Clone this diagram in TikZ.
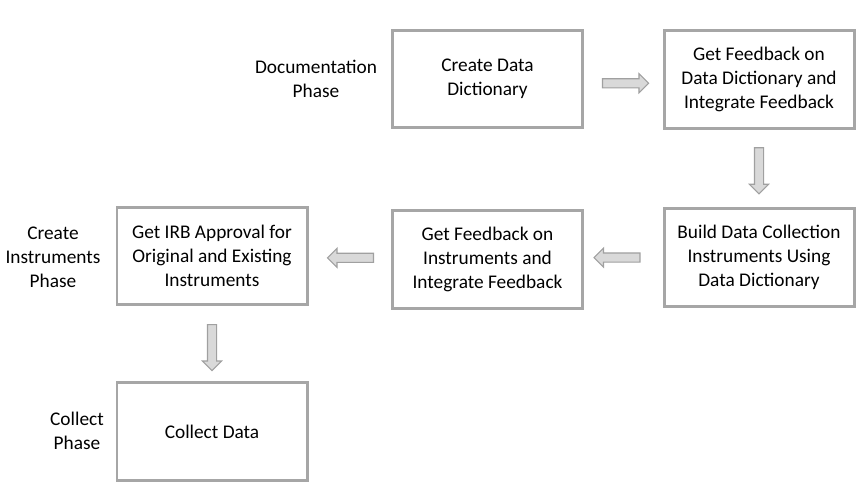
\documentclass[tikz,border=0pt]{standalone}
\usepackage{fontspec}
\setmainfont{Carlito}
\usetikzlibrary{shapes.arrows,calc}
\definecolor{boxline}{HTML}{A6A6A6}
\definecolor{arrowfill}{HTML}{D9D9D9}
\definecolor{arrowline}{HTML}{A0A0A0}
\begin{document}
\begin{tikzpicture}[
    stage/.style={rectangle, draw=boxline, line width=1.7pt, minimum width=3.8cm, minimum height=1.95cm, align=center, font=\fontsize{11}{13.6}\selectfont},
    phase/.style={align=center, font=\fontsize{11}{13.6}\selectfont},
    blockarrow/.style={single arrow, draw=arrowline, fill=arrowfill, line width=0.6pt, inner sep=0.08cm, single arrow head extend=0.1cm, minimum height=0.92cm}
]
\useasboundingbox (0,0) rectangle (17.3,-9.8);

% Phase labels
\node[phase] (docphase) at (6.32,-1.58) {Documentation\\Phase};
\node[phase] (instphase) at (1.06,-5.14) {Create\\Instruments\\Phase};
\node[phase] (collphase) at (1.54,-8.62) {Collect\\Phase};

% Stages
\node[stage] (dict) at (9.75,-1.58) {Create Data\\Dictionary};
\node[stage] (dictfb) at (15.18,-1.59) {Get Feedback on\\Data Dictionary and\\Integrate Feedback};
\node[stage] (build) at (15.18,-5.15) {Build Data Collection\\Instruments Using\\Data Dictionary};
\node[stage] (instfb) at (9.75,-5.19) {Get Feedback on\\Instruments and\\Integrate Feedback};
\node[stage] (irb) at (4.24,-5.12) {Get IRB Approval for\\Original and Existing\\Instruments};
\node[stage] (collect) at (4.24,-8.63) {Collect Data};

% Arrows between stages
\node[blockarrow] (a1) at ($(dict.east)!0.5!(dictfb.west)+(0,-0.08)$) {};
\node[blockarrow, shape border rotate=270] (a2) at ($(dictfb.south)!0.5!(build.north)$) {};
\node[blockarrow, shape border rotate=180] (a3) at ($(build.west)!0.5!(instfb.east)+(-0.08,0.02)$) {};
\node[blockarrow, shape border rotate=180] (a4) at ($(instfb.west)!0.5!(irb.east)+(0.06,0)$) {};
\node[blockarrow, shape border rotate=270] (a5) at ($(irb.south)!0.5!(collect.north)+(0,-0.03)$) {};

\end{tikzpicture}
\end{document}
